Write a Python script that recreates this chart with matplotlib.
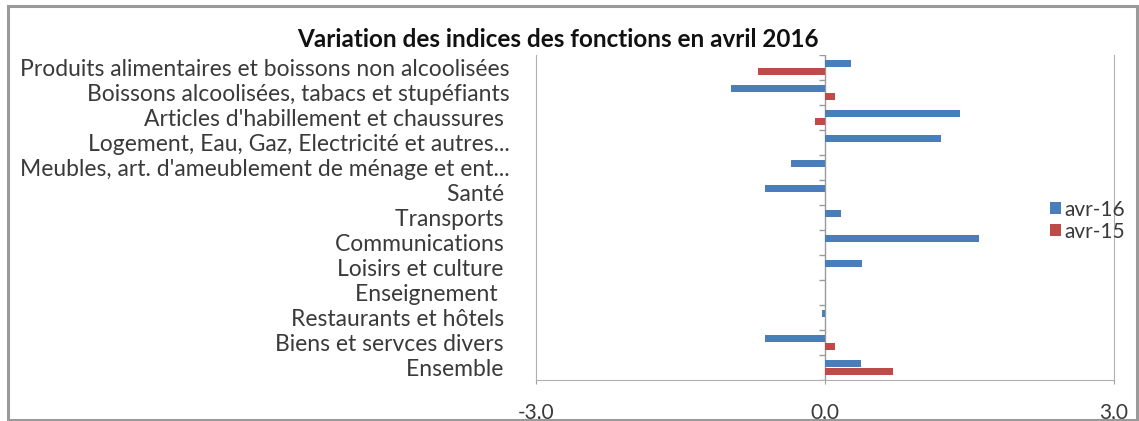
import numpy as np
import matplotlib
matplotlib.use('Agg')
import matplotlib.pyplot as plt
from matplotlib.patches import Rectangle

# Données
categories = [
    "Produits alimentaires et boissons non alcoolisées",
    "Boissons alcoolisées, tabacs et stupéfiants",
    "Articles d'habillement et chaussures ",
    "Logement, Eau, Gaz, Electricité et autres...",
    "Meubles, art. d'ameublement de ménage et ent...",
    "Santé ",
    "Transports ",
    "Communications ",
    "Loisirs et culture ",
    "Enseignement  ",
    "Restaurants et hôtels ",
    "Biens et servces divers ",
    "Ensemble ",
]
avr16 = [0.27, -0.98, 1.40, 1.20, -0.35, -0.62, 0.17, 1.60, 0.38, 0.0, -0.03, -0.62, 0.37]
avr15 = [-0.70, 0.10, -0.10, 0.0, 0.0, 0.0, 0.0, 0.0, 0.0, 0.0, 0.0, 0.10, 0.71]
xticks = [-3.0, 0.0, 3.0]
xtick_labels = ["-3,0", "0,0", "3,0"]

plt.rcParams['font.family'] = ['Lato', 'DejaVu Sans']

fig = plt.figure(figsize=(11.39, 4.21), dpi=100)
fig.patches.append(Rectangle((0.007, 0.003), 0.991, 0.982, transform=fig.transFigure,
                             fill=False, edgecolor='#9a9a9a', linewidth=2.2))

ax = fig.add_axes([0.4706, 0.0974, 0.5075, 0.772])

y = np.arange(len(categories))
h = 0.3
ax.barh(y - 0.16, avr16, height=h, color='#4a7ebb', label='avr-16', zorder=3)
ax.barh(y + 0.16, avr15, height=h, color='#be4b48', label='avr-15', zorder=3)

ax.set_xlim(-3, 3)
ax.set_ylim(len(categories) - 0.5, -0.5)
ax.set_xticks(xticks)
ax.set_xticklabels(xtick_labels)
ax.set_yticks(y)
ax.set_yticklabels(categories)
ax.tick_params(axis='y', length=0, pad=19, labelsize=16.5, labelcolor='#3a3a3a')
ax.tick_params(axis='x', length=3, pad=13, labelsize=15, labelcolor='#3a3a3a', color='#a0a0a0')

for s in ['left', 'right', 'bottom']:
    ax.spines[s].set_color('#b0b0b0')
ax.spines['top'].set_visible(False)

# axe vertical a zero avec graduations
ax.axvline(0, color='#9a9a9a', linewidth=1, zorder=2)
bounds = np.arange(len(categories) + 1) - 0.5
ax.hlines(bounds, -0.06, 0.0, color='#9a9a9a', linewidth=1, zorder=2)

fig.text(0.49, 0.905, "Variation des indices des fonctions en avril 2016",
         ha='center', va='center', fontsize=17.5, fontweight='bold', color='#111111')

ax.legend(loc='center left', bbox_to_anchor=(0.875, 0.49), frameon=False, fontsize=15,
          handlelength=0.5, handleheight=0.5, handletextpad=0.2, labelspacing=0.1,
          labelcolor='#3a3a3a', borderaxespad=0)

fig.savefig('out.png', dpi=100)
